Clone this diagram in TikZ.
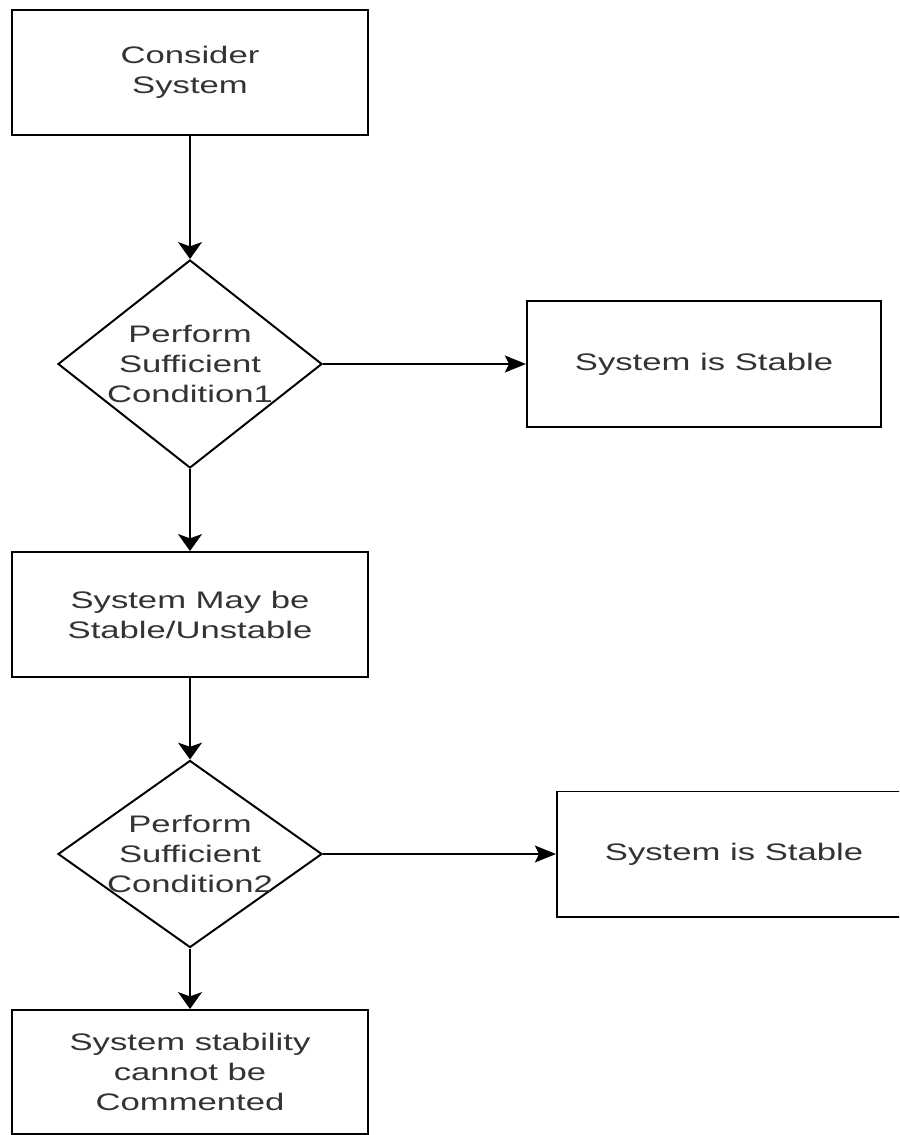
\documentclass[tikz,border=0pt]{standalone}
\usepackage{fontspec}
\newfontfamily\chartfont{Liberation Sans}[FakeStretch=1.45]
\usetikzlibrary{shapes.geometric,arrows.meta}

\tikzset{
    block/.style={draw, line width=1.4pt, rectangle, minimum width=8.875cm, minimum height=3.125cm,
        align=center, text=black!80, font=\chartfont\fontsize{17}{21.3}\selectfont},
    decision/.style={draw, line width=1.4pt, diamond, minimum width=6.6cm, inner sep=-15pt,
        align=center, text=black!80, font=\chartfont\fontsize{17}{21.3}\selectfont},
    varrow/.style={line width=1.4pt, -{Stealth[length=12pt, width=17pt, inset=3pt]}},
    harrow/.style={line width=1.4pt, -{Stealth[length=15pt, width=12pt, inset=3pt]}}
}

\begin{document}
\begin{tikzpicture}[x=0.025cm, y=-0.025cm]
    \clip (0,0) rectangle (899,1135);

    \node[block] (consider) at (190,72.5) {Consider\\System};
    \node[decision, minimum height=5.2cm] (cond1) at (190,364) {Perform\\Sufficient\\Condition1};
    \node[block, minimum width=8.85cm] (stable1) at (704,364) {System is Stable};

    \node[block] (maybe) at (190,614.5) {System May be\\Stable/Unstable};
    \node[decision, minimum height=4.675cm] (cond2) at (190,854) {Perform\\Sufficient\\Condition2};
    \node[block, minimum width=8.85cm] (stable2) at (734,854) {System is Stable};

    \node[block, minimum height=3.1cm] (comment) at (190,1072) {System stability\\cannot be\\Commented};

    \draw[varrow] (consider) -- (cond1);
    \draw[harrow] (cond1) -- (stable1);
    \draw[varrow] (cond1) -- (maybe);
    \draw[varrow] (maybe) -- (cond2);
    \draw[harrow] (cond2) -- (stable2);
    \draw[varrow] (cond2) -- (comment);
\end{tikzpicture}
\end{document}
